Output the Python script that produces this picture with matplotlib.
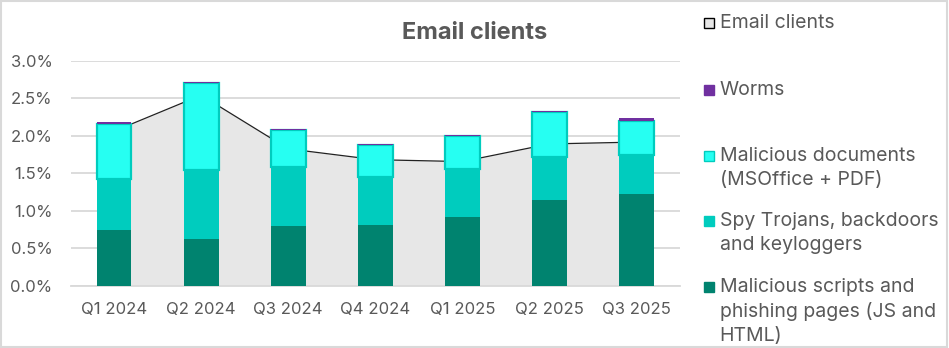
import matplotlib
matplotlib.use("Agg")
import matplotlib.pyplot as plt
from matplotlib.patches import Rectangle
from matplotlib.ticker import FuncFormatter
import numpy as np

plt.rcParams["font.family"] = ["Inter", "DejaVu Sans"]

quarters = ["Q1 2024", "Q2 2024", "Q3 2024", "Q4 2024", "Q1 2025", "Q2 2025", "Q3 2025"]
email_clients = [2.06, 2.54, 1.825, 1.68, 1.655, 1.89, 1.915]
scripts = [0.743, 0.62, 0.796, 0.81, 0.916, 1.143, 1.222]
spy = [0.676, 0.92, 0.782, 0.643, 0.644, 0.577, 0.516]
docs = [0.737, 1.16, 0.498, 0.423, 0.43, 0.596, 0.458]
worms = [0.025, 0.015, 0.013, 0.013, 0.015, 0.014, 0.04]

legend_labels = ["Email clients", "Worms", "Malicious documents\n(MSOffice + PDF)",
                 "Spy Trojans, backdoors\nand keyloggers",
                 "Malicious scripts and\nphishing pages (JS and\nHTML)"]

c_area = "#E7E7E7"
c_worms = "#7030A0"
c_docs = "#26FFF2"
c_docs_edge = "#00CCBE"
c_spy = "#00CCBE"
c_scripts = "#00836F"
c_text = "#595959"
c_grid = "#D9D9D9"

fig = plt.figure(figsize=(9.49, 3.48), dpi=100)
ax = fig.add_axes([70.5 / 949, 62.3 / 348, 609.5 / 949, 225 / 348])

x = np.arange(len(quarters))
w = 0.4

ax.fill_between(x, 0, email_clients, color=c_area, zorder=1, linewidth=0)
ax.plot(x, email_clients, color="#222222", lw=0.9, zorder=1.5)

b1 = np.array(scripts)
b2 = b1 + np.array(spy)
b3 = b2 + np.array(docs)
ax.bar(x, scripts, w, color=c_scripts, zorder=3)
ax.bar(x, spy, w, bottom=b1, color=c_spy, zorder=3)
ax.bar(x, docs, w, bottom=b2, color=c_docs, edgecolor=c_docs_edge, linewidth=1.6, zorder=3)
ax.bar(x, worms, w, bottom=b3, color=c_worms, zorder=4)

ax.set_xlim(-0.5, len(quarters) - 0.5)
ax.set_ylim(0, 3.0)
ax.set_yticks(np.arange(0, 3.01, 0.5))
ax.yaxis.set_major_formatter(FuncFormatter(lambda v, p: "%.1f%%" % v))
ax.set_xticks(x)
ax.set_xticklabels(quarters)
ax.grid(axis="y", color=c_grid, lw=1.3, zorder=0)
ax.set_axisbelow(True)
for s in ["top", "right", "left"]:
    ax.spines[s].set_visible(False)
ax.spines["bottom"].set_color(c_grid)
ax.spines["bottom"].set_linewidth(1.3)
ax.tick_params(axis="both", length=0, labelsize=12, colors=c_text)
ax.tick_params(axis="y", pad=13)
ax.tick_params(axis="x", pad=12)

fig.text(0.5, 1 - 33 / 348, "Email clients", ha="center", va="center",
         fontsize=17, fontweight="bold", color=c_text)

# legend drawn by hand, Excel-style spacing
leg_colors = [c_area, c_worms, c_docs, c_spy, c_scripts]
leg_edges = ["#000000", c_worms, c_docs_edge, c_spy, c_scripts]
leg_y = [15, 82, 148, 213, 279]
for lab, fc, ec, yy in zip(legend_labels, leg_colors, leg_edges, leg_y):
    fig.patches.append(Rectangle((703.5 / 949, 1 - (yy + 13) / 348), 10.5 / 949, 10.5 / 348,
                                 transform=fig.transFigure, facecolor=fc, edgecolor=ec, lw=1.0))
    fig.text(719.5 / 949, 1 - (yy - 1) / 348, lab, ha="left", va="top", fontsize=14,
             color=c_text, linespacing=1.4)

fig.patches.append(Rectangle((0.001, 0.002), 0.997, 0.995, transform=fig.transFigure,
                             facecolor="none", edgecolor=c_grid, lw=1.5))

fig.savefig("out.png", dpi=100)
